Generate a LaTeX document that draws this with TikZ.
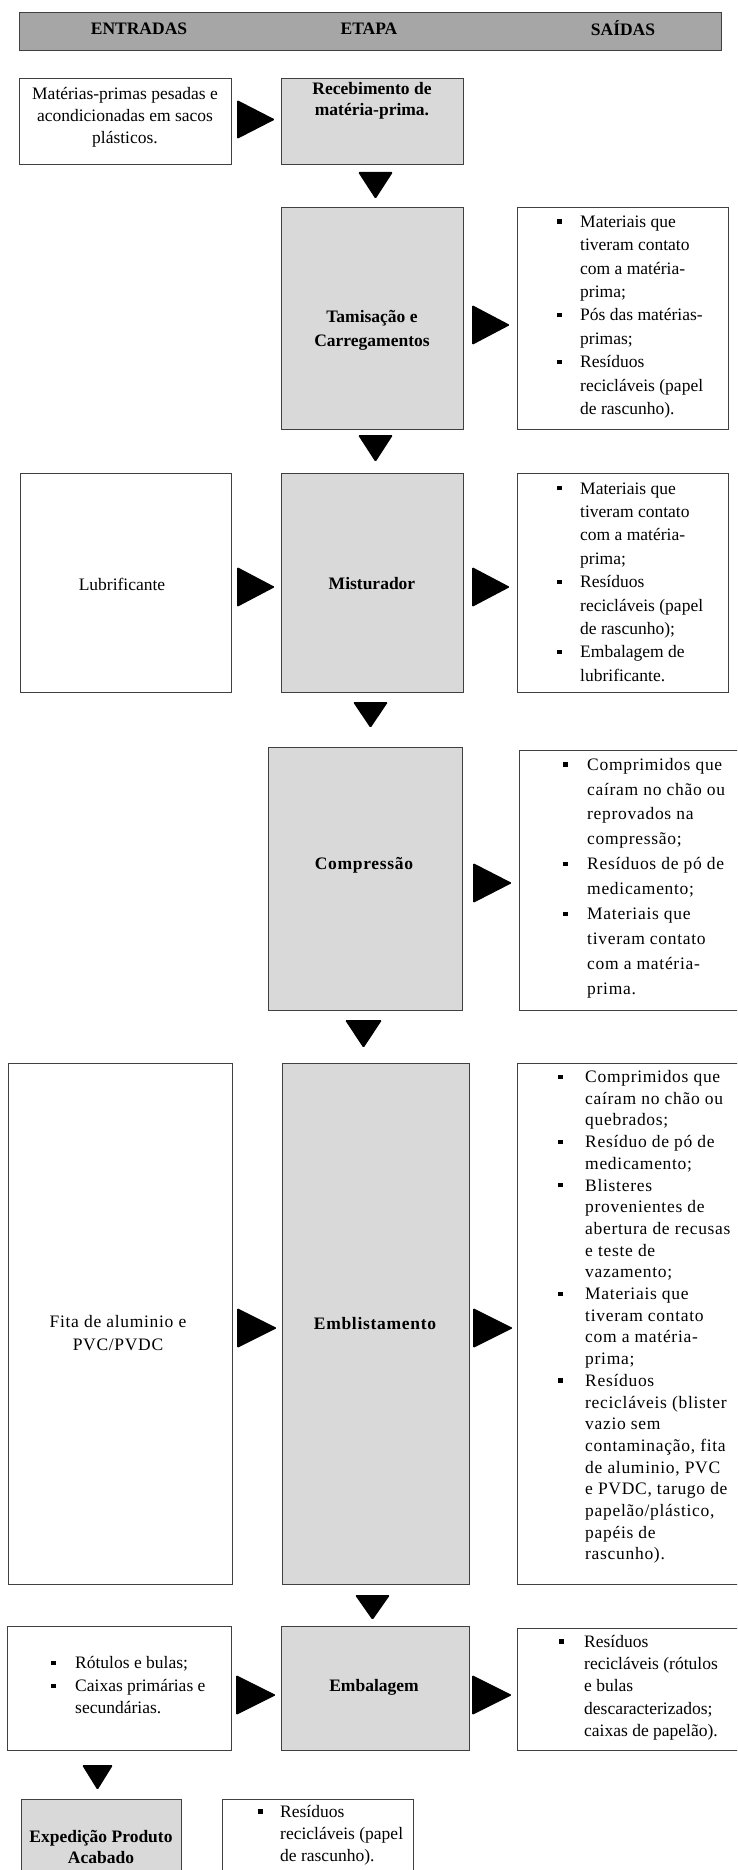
\documentclass[tikz,border=0pt]{standalone}
\usepackage{fontspec}
\setmainfont{Liberation Serif}
\newfontfamily\widefont[LetterSpace=4]{Liberation Serif}
\definecolor{procgray}{HTML}{D9D9D9}
\definecolor{headgray}{HTML}{A6A6A6}
\definecolor{bordergray}{HTML}{404040}
\newlength\bulind
\setlength\bulind{23pt}
\newcommand{\bul}{\makebox[\bulind][l]{\raisebox{3.6pt}{\rule{4.3pt}{4.3pt}}}}
\newcommand{\ind}{\hspace*{\bulind}}
\tikzset{
  boxline/.style={draw=bordergray, line width=1.2pt, inner sep=0pt, anchor=north west},
  procbox/.style={boxline, fill=procgray},
  plainbox/.style={boxline, fill=white},
  headbox/.style={boxline, fill=headgray},
  tri/.style={fill=black, rounded corners=1.3pt},
  txt/.style={inner sep=0pt, align=left, anchor=west},
  ctxt/.style={inner sep=0pt, align=center, anchor=center},
}
\begin{document}
\begin{tikzpicture}[x=1pt, y=-1pt]
\useasboundingbox (0,0) rectangle (737,1870);
\clip (0,0) rectangle (737,1870);
\fill[white] (0,0) rectangle (737,1870);

% header
\node[headbox, minimum width=702pt, minimum height=38pt] (hdr) at (19,12) {};
\node[ctxt, font=\fontsize{17.5}{20}\selectfont\bfseries] (hEnt) at (139,28.5) {ENTRADAS};
\node[ctxt, font=\fontsize{17.5}{20}\selectfont\bfseries] (hEta) at (369,28.5) {ETAPA};
\node[ctxt, font=\fontsize{17.5}{20}\selectfont\bfseries] (hSai) at (623,28.5) {SAÍDAS};

% row 1
\node[plainbox, minimum width=212pt, minimum height=86pt] (in1) at (19,78) {};
\node[procbox, minimum width=182pt, minimum height=86pt] (rec) at (281,78) {};
\node[ctxt, font=\fontsize{17.5}{22}\selectfont] (tin1) at (125,117) {Matérias-primas pesadas e\\acondicionadas em sacos\\plásticos.};
\node[ctxt, font=\fontsize{17.5}{21}\selectfont\bfseries] (trec) at (372,101) {Recebimento de\\matéria-prima.};
\fill[tri] (237,100) -- (275,119.5) -- (237,139) -- cycle;
\fill[tri] (358,172) -- (393,172) -- (375.5,199) -- cycle;

% row 2
\node[procbox, minimum width=182pt, minimum height=222pt] (tam) at (281,207) {};
\node[plainbox, minimum width=211pt, minimum height=222pt] (out2) at (517,207) {};
\node[ctxt, font=\fontsize{17.5}{24}\selectfont\bfseries] (ttam) at (372,330) {Tamisação e\\Carregamentos};
\node[txt, font=\fontsize{17.5}{23.4}\selectfont] (tout2) at (557,317) {\bul Materiais que\\\ind tiveram contato\\\ind com a matéria-\\\ind prima;\\\bul Pós das matérias-\\\ind primas;\\\bul Resíduos\\\ind recicláveis (papel\\\ind de rascunho).};
\fill[tri] (472,305) -- (510,325) -- (472,345) -- cycle;
\fill[tri] (358,435) -- (393,435) -- (375.5,462) -- cycle;

% row 3
\node[plainbox, minimum width=211pt, minimum height=219pt] (in3) at (20,473) {};
\node[procbox, minimum width=182pt, minimum height=219pt] (mis) at (281,473) {};
\node[plainbox, minimum width=211pt, minimum height=219pt] (out3) at (517,473) {};
\node[ctxt, font=\fontsize{17.5}{20}\selectfont] (tin3) at (122,584) {Lubrificante};
\node[ctxt, font=\fontsize{17.5}{20}\selectfont\bfseries] (tmis) at (372,584) {Misturador};
\node[txt, font=\fontsize{17.5}{23.4}\selectfont] (tout3) at (557,582) {\bul Materiais que\\\ind tiveram contato\\\ind com a matéria-\\\ind prima;\\\bul Resíduos\\\ind recicláveis (papel\\\ind de rascunho);\\\bul Embalagem de\\\ind lubrificante.};
\fill[tri] (237,567) -- (275,587) -- (237,607) -- cycle;
\fill[tri] (472,567) -- (510,587) -- (472,607) -- cycle;
\fill[tri] (353,702) -- (388,702) -- (370.5,728) -- cycle;

% row 4
\node[procbox, minimum width=194pt, minimum height=263pt] (comp) at (268,747) {};
\node[plainbox, minimum width=230pt, minimum height=260pt] (out4) at (519,750) {};
\node[ctxt, font=\widefont\fontsize{17.5}{20}\selectfont\bfseries] (tcomp) at (364,865) {Compressão};
\node[txt, font=\widefont\fontsize{17.5}{24.9}\selectfont\setlength\bulind{24pt}] (tout4) at (563,878) {\bul Comprimidos que\\\ind caíram no chão ou\\\ind reprovados na\\\ind compressão;\\\bul Resíduos de pó de\\\ind medicamento;\\\bul Materiais que\\\ind tiveram contato\\\ind com a matéria-\\\ind prima.};
\fill[tri] (473,863) -- (512,883) -- (473,903) -- cycle;
\fill[tri] (345,1020) -- (382,1020) -- (363.5,1048) -- cycle;

% row 5
\node[plainbox, minimum width=224pt, minimum height=521pt] (in5) at (8,1063) {};
\node[procbox, minimum width=187pt, minimum height=521pt] (emb) at (282,1063) {};
\node[plainbox, minimum width=230pt, minimum height=521pt] (out5) at (517,1063) {};
\node[ctxt, font=\widefont\fontsize{17.5}{23}\selectfont] (tin5) at (118,1333) {Fita de aluminio e\\PVC/PVDC};
\node[ctxt, font=\widefont\fontsize{17.5}{20}\selectfont\bfseries] (temb) at (375,1323) {Emblistamento};
\node[txt, font=\widefont\fontsize{17.5}{21.7}\selectfont\setlength\bulind{27pt}] (tout5) at (558,1317) {\bul Comprimidos que\\\ind caíram no chão ou\\\ind quebrados;\\\bul Resíduo de pó de\\\ind medicamento;\\\bul Blisteres\\\ind provenientes de\\\ind abertura de recusas\\\ind e teste de\\\ind vazamento;\\\bul Materiais que\\\ind tiveram contato\\\ind com a matéria-\\\ind prima;\\\bul Resíduos\\\ind recicláveis (blister\\\ind vazio sem\\\ind contaminação, fita\\\ind de aluminio, PVC\\\ind e PVDC, tarugo de\\\ind papelão/plástico,\\\ind papéis de\\\ind rascunho).};
\fill[tri] (237,1308) -- (277,1328) -- (237,1348) -- cycle;
\fill[tri] (473,1308) -- (513,1328) -- (473,1348) -- cycle;
\fill[tri] (355,1595) -- (390,1595) -- (372.5,1620) -- cycle;

% row 6
\node[plainbox, minimum width=224pt, minimum height=124pt] (in6) at (7,1626) {};
\node[procbox, minimum width=188pt, minimum height=124pt] (embal) at (281,1626) {};
\node[plainbox, minimum width=230pt, minimum height=122pt] (out6) at (517,1628) {};
\node[txt, font=\fontsize{17.5}{22.5}\selectfont\setlength\bulind{24pt}] (tin6) at (51,1685.5) {\bul Rótulos e bulas;\\\bul Caixas primárias e\\\ind secundárias.};
\node[ctxt, font=\fontsize{17.5}{20}\selectfont\bfseries] (tembal) at (374,1687) {Embalagem};
\node[txt, font=\fontsize{17.5}{22.3}\selectfont\setlength\bulind{25pt}] (tout6) at (559,1687.5) {\bul Resíduos\\\ind recicláveis (rótulos\\\ind e bulas\\\ind descaracterizados;\\\ind caixas de papelão).};
\fill[tri] (236,1675) -- (276,1695) -- (236,1715) -- cycle;
\fill[tri] (472,1675) -- (512,1695) -- (472,1715) -- cycle;
\fill[tri] (82,1765) -- (113,1765) -- (97.5,1790) -- cycle;

% row 7
\node[procbox, minimum width=160pt, minimum height=100pt] (exp) at (21,1799) {};
\node[plainbox, minimum width=191pt, minimum height=100pt] (out7) at (222,1799) {};
\node[ctxt, font=\fontsize{17.5}{21}\selectfont\bfseries] (texp) at (101,1846.5) {Expedição Produto\\Acabado};
\node[txt, font=\fontsize{17.5}{22}\selectfont\setlength\bulind{22pt}] (tout7) at (258,1835) {\bul Resíduos\\\ind recicláveis (papel\\\ind de rascunho).};
\end{tikzpicture}
\end{document}
